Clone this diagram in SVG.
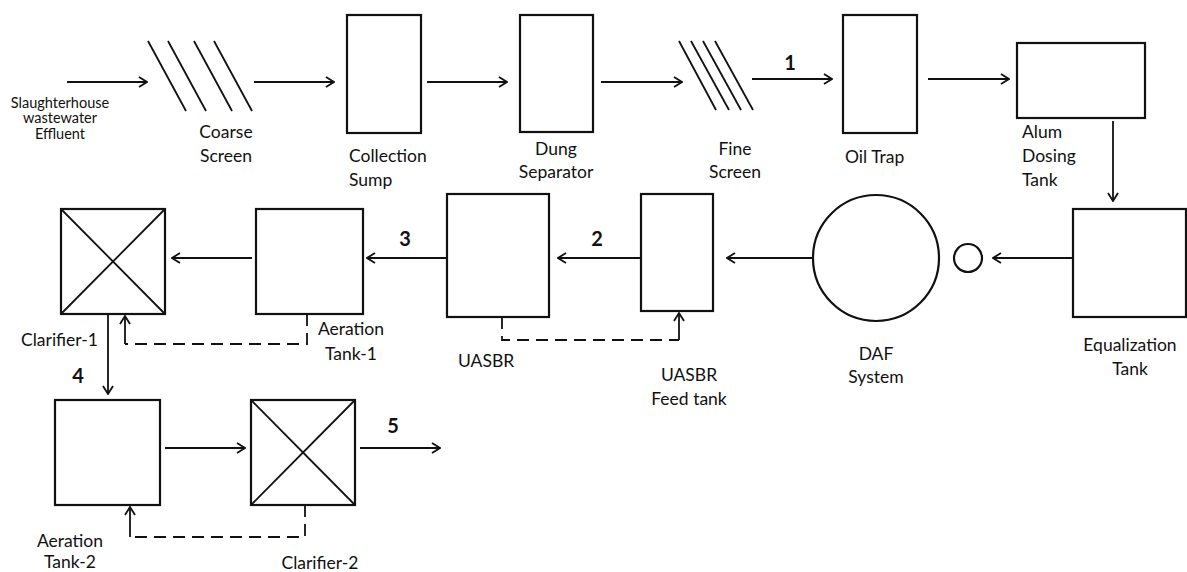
<svg xmlns="http://www.w3.org/2000/svg" width="1187" height="572" viewBox="0 0 1187 572">
<style>
.box{fill:none;stroke:#111;stroke-width:2.2}
.ln{fill:none;stroke:#111;stroke-width:1.8}
.ar{fill:none;stroke:#111;stroke-width:1.8;marker-end:url(#ah)}
.ds{fill:none;stroke:#111;stroke-width:1.8;stroke-dasharray:12,7}
text{font-family:Lato,"Open Sans","Liberation Sans",sans-serif;fill:#111;font-size:17.5px}
.sm{font-size:14.5px}
.num{font-weight:bold;font-size:20px}
.c{text-anchor:middle}
</style>
<defs>
<marker id="ah" viewBox="0 0 10 12" refX="9" refY="6" markerWidth="10" markerHeight="12" markerUnits="userSpaceOnUse" orient="auto">
<path d="M1,1 L9,6 L1,11" fill="none" stroke="#111" stroke-width="1.8"/>
</marker>
</defs>
<rect width="1187" height="572" fill="#fff"/>

<g id="effluent">
<text class="sm c" x="60" y="108">Slaughterhouse</text>
<text class="sm c" x="60" y="123">wastewater</text>
<text class="sm c" x="60" y="139">Effluent</text>
</g>
<g id="coarse-screen">
<line class="ln" x1="148" y1="41" x2="186" y2="111"/>
<line class="ln" x1="168" y1="41" x2="206" y2="111"/>
<line class="ln" x1="194" y1="41" x2="232" y2="111"/>
<line class="ln" x1="214" y1="41" x2="252" y2="111"/>
<text class="c" x="226" y="138">Coarse</text>
<text class="c" x="226" y="162">Screen</text>
</g>
<g id="collection-sump">
<rect class="box" x="347" y="15" width="74" height="118"/>
<text x="349" y="162">Collection</text>
<text x="349" y="186">Sump</text>
</g>
<g id="dung-separator">
<rect class="box" x="520" y="15" width="73" height="117"/>
<text class="c" x="556" y="155">Dung</text>
<text class="c" x="556" y="178">Separator</text>
</g>
<g id="fine-screen">
<line class="ln" x1="679" y1="41" x2="716" y2="110"/>
<line class="ln" x1="691" y1="41" x2="729" y2="110"/>
<line class="ln" x1="703" y1="41" x2="741" y2="110"/>
<line class="ln" x1="715" y1="41" x2="753" y2="110"/>
<text class="c" x="735" y="155">Fine</text>
<text class="c" x="735" y="178">Screen</text>
</g>
<g id="oil-trap">
<rect class="box" x="843" y="15" width="74" height="118"/>
<text x="845" y="163">Oil Trap</text>
</g>
<g id="alum-dosing-tank">
<rect class="box" x="1017" y="43" width="128" height="75"/>
<text x="1022" y="138">Alum</text>
<text x="1022" y="162">Dosing</text>
<text x="1022" y="186">Tank</text>
</g>
<g id="equalization-tank">
<rect class="box" x="1073" y="209" width="113" height="108"/>
<text class="c" x="1130" y="351">Equalization</text>
<text class="c" x="1130" y="375">Tank</text>
</g>
<g id="pump">
<circle class="box" cx="968" cy="258" r="14"/>
</g>
<g id="daf-system">
<circle class="box" cx="876" cy="258" r="63"/>
<text class="c" x="876" y="360">DAF</text>
<text class="c" x="876" y="383">System</text>
</g>
<g id="uasbr-feed-tank">
<rect class="box" x="641" y="194" width="72" height="117"/>
<text class="c" x="689" y="381">UASBR</text>
<text class="c" x="689" y="405">Feed tank</text>
</g>
<g id="uasbr">
<rect class="box" x="447" y="194" width="102" height="123"/>
<text x="458" y="367">UASBR</text>
</g>
<g id="aeration-tank-1">
<rect class="box" x="256" y="209" width="107" height="105"/>
<text class="c" x="351" y="335">Aeration</text>
<text class="c" x="351" y="360">Tank-1</text>
</g>
<g id="clarifier-1">
<rect class="box" x="61" y="209" width="104" height="105"/>
<line class="ln" x1="61" y1="209" x2="165" y2="314"/>
<line class="ln" x1="165" y1="209" x2="61" y2="314"/>
<text x="21" y="346">Clarifier-1</text>
</g>
<g id="aeration-tank-2">
<rect class="box" x="55" y="400" width="105" height="105"/>
<text class="c" x="70" y="547">Aeration</text>
<text class="c" x="70" y="568">Tank-2</text>
</g>
<g id="clarifier-2">
<rect class="box" x="251" y="400" width="104" height="105"/>
<line class="ln" x1="251" y1="400" x2="355" y2="505"/>
<line class="ln" x1="355" y1="400" x2="251" y2="505"/>
<text class="c" x="320" y="569">Clarifier-2</text>
</g>

<g id="connectors">
<line class="ar" x1="67" y1="82" x2="147" y2="82"/>
<line class="ar" x1="254" y1="82" x2="334" y2="82"/>
<line class="ar" x1="427" y1="82" x2="507" y2="82"/>
<line class="ar" x1="601" y1="82" x2="682" y2="82"/>
<line class="ar" x1="752" y1="79" x2="832" y2="79"/>
<line class="ar" x1="928" y1="79" x2="1009" y2="79"/>
<line class="ar" x1="1113" y1="121" x2="1113" y2="201"/>
<line class="ar" x1="1073" y1="258" x2="993" y2="258"/>
<line class="ar" x1="812" y1="258" x2="727" y2="258"/>
<line class="ar" x1="641" y1="258" x2="558" y2="258"/>
<line class="ar" x1="447" y1="258" x2="367" y2="258"/>
<line class="ar" x1="252" y1="258" x2="172" y2="258"/>
<line class="ar" x1="108" y1="314" x2="108" y2="394"/>
<line class="ar" x1="165" y1="448" x2="245" y2="448"/>
<line class="ar" x1="360" y1="448" x2="440" y2="448"/>
<path class="ds" d="M502,317 V340 H679"/>
<line class="ar" x1="679" y1="340" x2="679" y2="313"/>
<path class="ds" d="M307,314 V344 H125"/>
<line class="ar" x1="125" y1="344" x2="125" y2="316"/>
<path class="ds" d="M305,505 V537 H130"/>
<line class="ar" x1="130" y1="537" x2="130" y2="507"/>
<text class="num c" x="790" y="70">1</text>
<text class="num c" x="597" y="246">2</text>
<text class="num c" x="405" y="246">3</text>
<text class="num c" x="78" y="383">4</text>
<text class="num c" x="393" y="433">5</text>
</g>
</svg>
